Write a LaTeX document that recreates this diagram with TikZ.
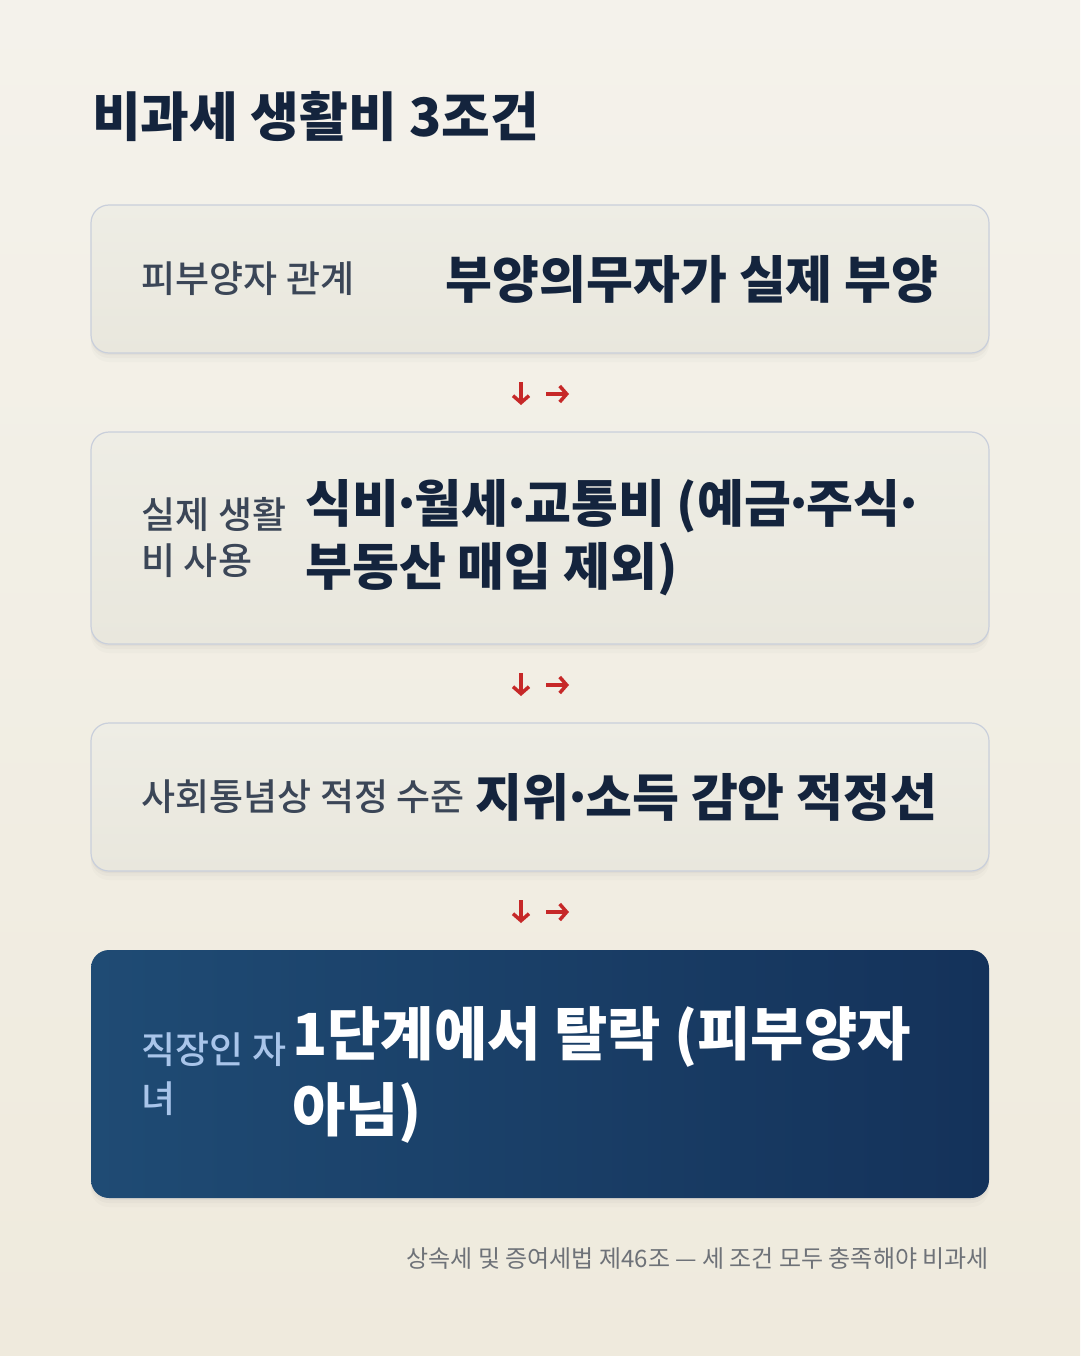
\documentclass[tikz,border=0pt]{standalone}
\usepackage{fontspec}
\setmainfont{Noto Sans CJK KR}[FontFace={mb}{n}{Noto Sans CJK KR Medium},BoldFont={Noto Sans CJK KR Black}]
\newcommand{\md}{\makebox[0.31em][c]{·}}
\usetikzlibrary{positioning,shadows,arrows.meta}
\definecolor{paperTop}{HTML}{F4F2EB}
\definecolor{paperBot}{HTML}{EFEADD}
\definecolor{cardTop}{HTML}{EEEDE5}
\definecolor{cardBot}{HTML}{E9E7DD}
\definecolor{cardLine}{HTML}{C9CFDB}
\definecolor{navyLeft}{HTML}{1F4B74}
\definecolor{navyRight}{HTML}{14325A}
\definecolor{ink}{HTML}{14243D}
\definecolor{keyInk}{HTML}{3B4657}
\definecolor{keyPale}{HTML}{A9C5EA}
\definecolor{turnRed}{HTML}{C62828}
\definecolor{noteInk}{HTML}{6E7278}

\begin{document}
\begin{tikzpicture}[x=1pt,y=-1pt]
\tikzstyle{card}=[rectangle,draw=cardLine,line width=1.2pt,rounded corners=18pt,top color=cardTop,bottom color=cardBot,minimum width=898pt,
  drop shadow={shadow xshift=0pt,shadow yshift=-2pt,opacity=.06},
  drop shadow={shadow xshift=0pt,shadow yshift=-5pt,opacity=.05},
  drop shadow={shadow xshift=0pt,shadow yshift=-9pt,opacity=.035}]
\tikzstyle{verdict}=[card,draw=none,left color=navyLeft,right color=navyRight]
\tikzstyle{key}=[inner sep=0pt,align=left,text=keyInk,font=\fontsize{37}{46}\selectfont\fontseries{mb}\selectfont]
\tikzstyle{val}=[inner sep=0pt,align=left,text=ink,font=\fontsize{51}{63}\selectfont\bfseries]
\tikzstyle{turn}=[draw=turnRed,line width=3.5pt,-{Straight Barb[length=7pt,width=16pt]}]

\shade[top color=paperTop,bottom color=paperBot] (0,0) rectangle (1080,1356);
\useasboundingbox (0,0) rectangle (1080,1356);

\node [anchor=base west,inner sep=0pt,text=ink,font=\fontsize{53}{53}\selectfont\bfseries] (title) at (92,137) {비과세 생활비 3조건};

% condition cards
\node [card,minimum height=148pt] (c1) at (540,279) {};
\node [key,anchor=west] (k1) at ([xshift=51pt]c1.west) {피부양자 관계};
\node [val,anchor=east] (v1) at ([xshift=-51pt]c1.east) {부양의무자가 실제 부양};

\node [card,minimum height=212pt] (c2) at (540,538) {};
\node [key,anchor=west] (k2) at ([xshift=51pt]c2.west) {실제 생활\\비 사용};
\node [val,anchor=west] (v2) at (305,538) {식비\md 월세\md 교통비 (예금\md 주식\md\\부동산 매입 제외)};

\node [card,minimum height=148pt] (c3) at (540,797) {};
\node [key,anchor=west] (k3) at ([xshift=51pt]c3.west) {사회통념상 적정 수준};
\node [val,anchor=east] (v3) at ([xshift=-52pt]c3.east) {지위\md 소득 감안 적정선};

% verdict card
\node [verdict,minimum height=248pt] (c4) at (540,1074) {};
\node [key,anchor=west,text=keyPale,font=\fontsize{37}{49}\selectfont\fontseries{mb}\selectfont] (k4) at ([xshift=51pt]c4.west) {직장인 자\\녀};
\node [val,anchor=west,text=white,font=\fontsize{58}{76}\selectfont\bfseries] (v4) at (292,1075) {1단계에서 탈락 (피부양자\\아님)};

% arrows between the cards
\foreach \y/\n in {394/1,685/2,912/3}{
  \coordinate (dt\n) at (521,\y-12);
  \coordinate (db\n) at (521,\y+11);
  \coordinate (rl\n) at (546,\y);
  \coordinate (rr\n) at (569,\y);
  \draw [turn] (dt\n) -- (db\n);
  \draw [turn] (rl\n) -- (rr\n);
}

\node [anchor=east,inner sep=0pt,text=noteInk,font=\fontsize{24}{24}\selectfont] (note) at (989,1258) {상속세 및 증여세법 제46조 — 세 조건 모두 충족해야 비과세};
\end{tikzpicture}
\end{document}
